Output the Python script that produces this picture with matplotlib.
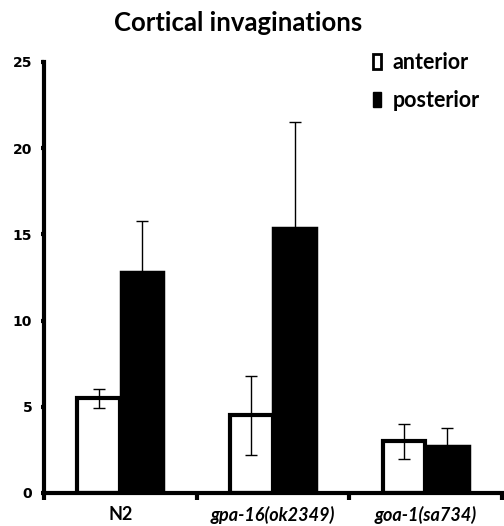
import matplotlib
matplotlib.use("Agg")
import matplotlib.pyplot as plt
from matplotlib.patches import Patch
import numpy as np

groups = ["N2", "gpa-16(ok2349)", "goa-1(sa734)"]
group_italic = [False, True, True]
anterior = [5.5, 4.5, 3.0]
anterior_err = [0.55, 2.3, 1.0]
posterior = [12.8, 15.4, 2.7]
posterior_err = [2.95, 6.1, 1.05]
yticks = [0, 5, 10, 15, 20, 25]

fig = plt.figure(figsize=(5.04, 5.26), dpi=100)
ax = fig.add_axes([44/504, 1-493/526, (502-44)/504, (493-62)/526])

x = np.arange(len(groups))
w = 0.28
ax.bar(x - 0.142, anterior, width=w, color="white", edgecolor="black", linewidth=3, zorder=2)
ax.bar(x + 0.142, posterior, width=w, color="black", edgecolor="black", linewidth=2.5, zorder=2)
ax.errorbar(x - 0.142, anterior, yerr=anterior_err, fmt="none", ecolor="black",
            elinewidth=1, capsize=4.5, capthick=1, zorder=3)
ax.errorbar(x + 0.142, posterior, yerr=posterior_err, fmt="none", ecolor="black",
            elinewidth=1, capsize=4.5, capthick=1, zorder=1)

ax.set_xlim(-0.5, 2.5)
ax.set_ylim(0, 25)
for s in ["top", "right"]:
    ax.spines[s].set_visible(False)
for s in ["left", "bottom"]:
    ax.spines[s].set_linewidth(3)

ax.set_yticks(yticks)
ax.set_yticklabels([str(v) for v in yticks], fontsize=10, fontweight="bold", family="DejaVu Sans")
ax.tick_params(axis="y", direction="out", length=2.5, width=3, pad=6)

ax.set_xticks([-0.5, 0.5, 1.5, 2.5])
ax.set_xticklabels([])
ax.tick_params(axis="x", which="major", direction="out", length=5, width=3)
ax.set_xticks(x, minor=True)
ax.set_xticklabels(groups, minor=True)
ax.tick_params(axis="x", which="minor", length=0, pad=9)
for lbl, it in zip(ax.get_xticklabels(minor=True), group_italic):
    lbl.set_fontfamily("Lato")
    lbl.set_fontweight("bold")
    lbl.set_fontsize(13)
    if it:
        lbl.set_fontstyle("italic")

fig.text(238/504, 1-23/526, "Cortical invaginations", ha="center", va="center",
         fontsize=18.5, fontweight="bold", family="Lato")

handles = [Patch(facecolor="white", edgecolor="black", linewidth=2),
           Patch(facecolor="black", edgecolor="black")]
leg = ax.legend(handles, ["anterior", "posterior"], loc="upper left",
                bbox_to_anchor=(362/504, 1-41/526), bbox_transform=fig.transFigure,
                frameon=False, borderpad=0, handlelength=0.37, handleheight=0.7,
                handletextpad=0.55, labelspacing=0.8,
                prop={"family": "Lato", "weight": "bold", "size": 15.5})

fig.savefig("out.png", dpi=100)
